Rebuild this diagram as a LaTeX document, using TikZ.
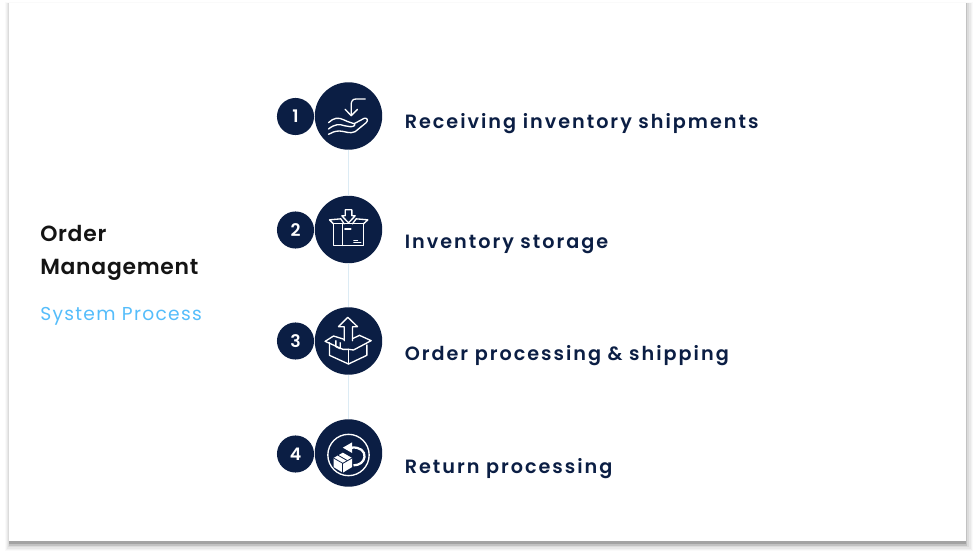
\documentclass[tikz,border=0pt]{standalone}
\usepackage{fontspec}
\setmainfont{Poppins}
\newfontfamily\labfont[LetterSpace=10.4]{Poppins SemiBold}
\newfontfamily\titfont[LetterSpace=3.4]{Poppins SemiBold}
\newfontfamily\subfont[LetterSpace=7]{Poppins}
\newfontfamily\numfont{Poppins SemiBold}
\definecolor{navy}{HTML}{0B1E44}
\definecolor{sky}{HTML}{55BDFB}
\definecolor{linkc}{HTML}{DCEBF4}
\tikzset{
 big/.style={circle,fill=navy,minimum size=50.6pt,inner sep=0pt,outer sep=0pt},
 small/.style={circle,fill=navy,minimum size=27.8pt,inner sep=0pt,outer sep=0pt,text=white,font=\numfont\fontsize{13}{13}\selectfont},
 lab/.style={anchor=base west,inner sep=0pt,text=navy,font=\labfont\fontsize{14.4}{14.4}\selectfont},
 tit/.style={anchor=base west,inner sep=0pt,text=black!92,font=\titfont\fontsize{16.4}{16.4}\selectfont},
 sub/.style={anchor=base west,inner sep=0pt,text=sky,font=\subfont\fontsize{14}{14}\selectfont},
 link/.style={draw=linkc,line width=0.9pt},
 ico/.style={draw=white,line width=1pt,line cap=round,line join=round},
 icofill/.style={fill=white,draw=none},
 icoin/.style={draw=navy,line width=0.6pt,line join=round}
}
\begin{document}
\begin{tikzpicture}[x=0.75pt,y=-0.75pt]
\useasboundingbox (0,0) rectangle (975,556);
% card shadow
\fill[black!2] (5,2) rectangle (973,551);
\fill[black!5] (6,3) rectangle (972,550);
\fill[black!9] (7,3) rectangle (971,549);
\fill[black!14] (8,3) rectangle (969,547);
\fill[black!24] (9,3) rectangle (967,546);
\fill[black!36] (9,4) rectangle (966,544);
\fill[white] (9,3.5) rectangle (966,541);
% circles
\node[big] (b1) at (348.5,116) {};
\node[big] (b2) at (348.5,229.5) {};
\node[big] (b3) at (348.5,341) {};
\node[big] (b4) at (348.5,453) {};
\draw[link] (b1) -- (b2);
\draw[link] (b2) -- (b3);
\draw[link] (b3) -- (b4);
\node[small] (s1) at (295.5,116.5) {1};
\node[small] (s2) at (295.5,230) {2};
\node[small] (s3) at (295.5,341) {3};
\node[small] (s4) at (295.5,454) {4};
% labels
\node[lab] (t1) at (404.5,128.8) {Receiving inventory shipments};
\node[lab] (t2) at (404.5,248.3) {Inventory storage};
\node[lab] (t3) at (404.5,360.3) {Order processing \& shipping};
\node[lab] (t4) at (404.5,473.3) {Return processing};
\node[tit] (h1) at (40,242) {Order};
\node[tit] (h2) at (40,274) {Management};
\node[sub] (h3) at (40,320.5) {System Process};
% icon 1: hand
\begin{scope}[shift={(b1.center)},x=0.25pt,y=-0.25pt,shift={(-235,-123)}]
\draw[ico] (285,72) -- (258,72) .. controls (247,72) and (244,78) .. (243,88) -- (243,120);
\draw[ico] (225,103) -- (243,122) -- (262,103);
\draw[ico] (175,143) .. controls (190,128) and (205,126) .. (222,135) .. controls (235,142) and (245,143) .. (252,146) .. controls (258,150) and (250,156) .. (240,155) -- (222,152);
\draw[ico] (175,162) .. controls (192,148) and (208,146) .. (222,152);
\draw[ico] (252,146) -- (282,130) .. controls (290,127) and (296,136) .. (288,143) -- (255,170) .. controls (240,178) and (222,168) .. (208,168) .. controls (195,168) and (185,172) .. (175,178);
\end{scope}
% icon 2: box
\begin{scope}[shift={(b2.center)},x=0.25pt,y=-0.25pt,shift={(-235,-117)}]
\draw[ico] (190,100) rectangle (280,165);
\draw[ico] (217,100) -- (217,165);
\draw[ico] (190,100) -- (178,88) -- (212,85) -- (222,100);
\draw[ico] (280,100) -- (293,88) -- (258,85) -- (247,100);
\draw[ico] (225,58) -- (245,58) -- (245,76) -- (255,76) -- (235,97) -- (215,76) -- (225,76) -- cycle;
\draw[ico] (224,116) -- (242,116);
\draw[ico] (251,150) -- (262,150);
\draw[ico] (251,156) -- (272,156);
\end{scope}
% icon 3: box out
\begin{scope}[shift={(b3.center)},x=0.25pt,y=-0.25pt,shift={(-235,-123)}]
\draw[ico] (222,122) -- (222,80) -- (205,80) -- (233,52) -- (262,80) -- (247,80) -- (247,122);
\draw[ico] (178,128) -- (178,166) -- (235,192) -- (290,166) -- (290,135);
\draw[ico] (235,192) -- (235,148);
\draw[ico] (165,124) -- (190,108) -- (222,118);
\draw[ico] (165,124) -- (218,148) -- (235,148) -- (250,150) -- (303,122) -- (268,106) -- (247,116);
\draw[ico] (197,122) -- (197,140) -- (210,146) -- (210,128);
\end{scope}
% icon 4: return
\begin{scope}[shift={(b4.center)},x=0.25pt,y=-0.25pt,shift={(-235,-123)}]
\draw[ico] (235,129) circle (62);
\fill[icofill] (218,107) -- (246,91) -- (246,123) -- cycle;
\draw[white,line width=1.7pt] (244,107) .. controls (270,104) and (285,118) .. (283,135) .. controls (281,150) and (268,160) .. (250,160);
\fill[icofill] (190,138) -- (218,122) -- (246,138) -- (246,165) -- (218,182) -- (190,165) -- cycle;
\draw[icoin] (190,138) -- (218,154) -- (246,138);
\draw[icoin] (218,154) -- (218,182);
\draw[icoin] (204,130) -- (232,146);
\end{scope}
\end{tikzpicture}
\end{document}
